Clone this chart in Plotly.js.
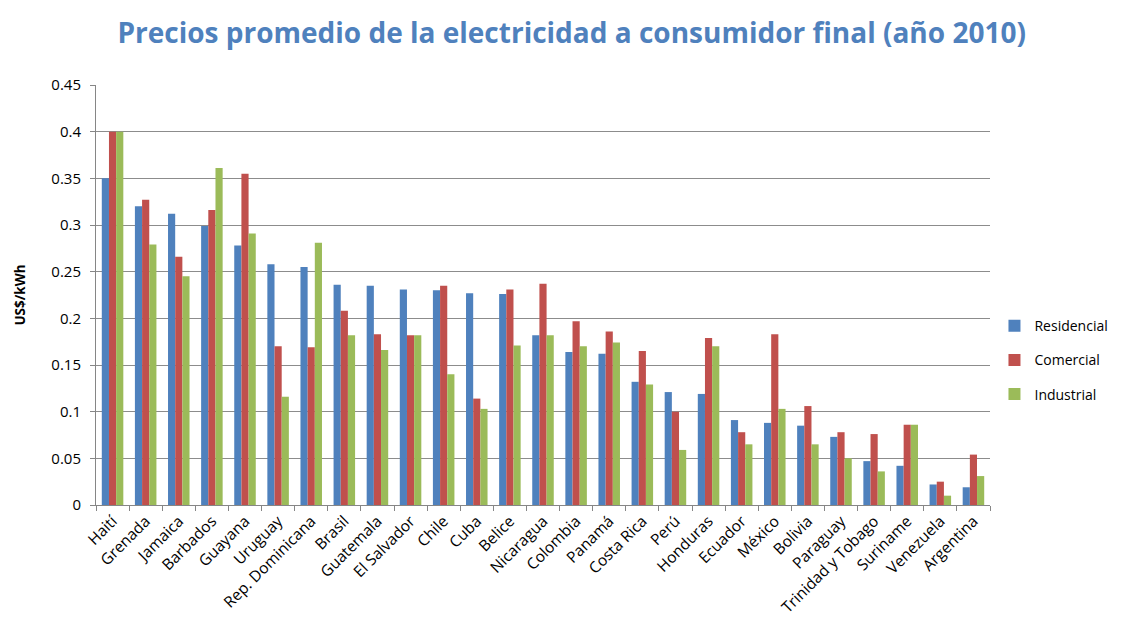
<!DOCTYPE html>
<html>
<head>
<meta charset="utf-8">
<script src="https://cdn.plot.ly/plotly-3.0.1.min.js"></script>
<style>html,body{margin:0;padding:0;background:#fff;}#chart{width:1121px;height:630px;}</style>
</head>
<body>
<div id="chart"></div>
<script>
const countries = ["Haití","Grenada","Jamaica","Barbados","Guayana","Uruguay","Rep. Dominicana","Brasil","Guatemala","El Salvador","Chile","Cuba","Belice","Nicaragua","Colombia","Panamá","Costa Rica","Perú","Honduras","Ecuador","México","Bolivia","Paraguay","Trinidad y Tobago","Suriname","Venezuela","Argentina"];
const residencial = [0.350,0.320,0.312,0.299,0.278,0.258,0.255,0.236,0.235,0.231,0.230,0.227,0.226,0.182,0.164,0.162,0.132,0.121,0.119,0.091,0.088,0.085,0.073,0.047,0.042,0.022,0.019];
const comercial   = [0.400,0.327,0.266,0.316,0.355,0.170,0.169,0.208,0.183,0.182,0.235,0.114,0.231,0.237,0.197,0.186,0.165,0.100,0.179,0.078,0.183,0.106,0.078,0.076,0.086,0.025,0.054];
const industrial  = [0.400,0.279,0.245,0.361,0.291,0.116,0.281,0.182,0.166,0.182,0.140,0.103,0.171,0.182,0.170,0.174,0.129,0.059,0.170,0.065,0.103,0.065,0.050,0.036,0.086,0.010,0.031];
const seriesNames = ["Residencial","Comercial","Industrial"];
const colors = ["#4F81BD","#C0504D","#9BBB59"];

const font = "Open Sans, Lato, sans-serif";
const data = [residencial, comercial, industrial].map((v,i)=>({
  type:"bar", x:countries, y:v, name:seriesNames[i], legendgroup:"g"+i,
  marker:{color:colors[i], line:{width:0}}
}));

const layout = {
  width:1121, height:630,
  paper_bgcolor:"#fff", plot_bgcolor:"#fff",
  margin:{l:96, r:131, t:85, b:125, autoexpand:false},
  barmode:"group", bargap:0.35, bargroupgap:0,
  title:{text:"<b>Precios promedio de la electricidad a consumidor final (año 2010)</b>",
    font:{family:font, size:28, color:"#4F81BD"}, x:0.51, xanchor:"center", y:0.948, yanchor:"middle"},
  xaxis:{type:"category", tickangle:-45, tickson:"boundaries", ticks:"outside", ticklen:5,
    tickcolor:"#868686", showline:true, linecolor:"#868686", linewidth:1,
    tickfont:{family:font, size:15.5, color:"#000"}, showgrid:false, automargin:false},
  yaxis:{range:[0,0.45], dtick:0.05, tick0:0, ticks:"outside", ticklen:5, tickcolor:"#868686",
    showline:true, linecolor:"#868686", gridcolor:"#8c8c8c", gridwidth:1,
    ticklabelstandoff:6,
    tickfont:{family:font, size:15, color:"#000"}, zeroline:false, automargin:false,
    title:{text:"<b>US$/kWh</b>", font:{family:font, size:13.5, color:"#000"}, standoff:22}},
  legend:{x:1.005, xanchor:"left", y:0.345, yanchor:"middle", font:{family:font, size:14, color:"#000"},
    tracegroupgap:13, itemwidth:30, bgcolor:"rgba(0,0,0,0)"},
  showlegend:true
};
Plotly.newPlot("chart", data, layout, {displayModeBar:false, staticPlot:true});
</script>
</body>
</html>
